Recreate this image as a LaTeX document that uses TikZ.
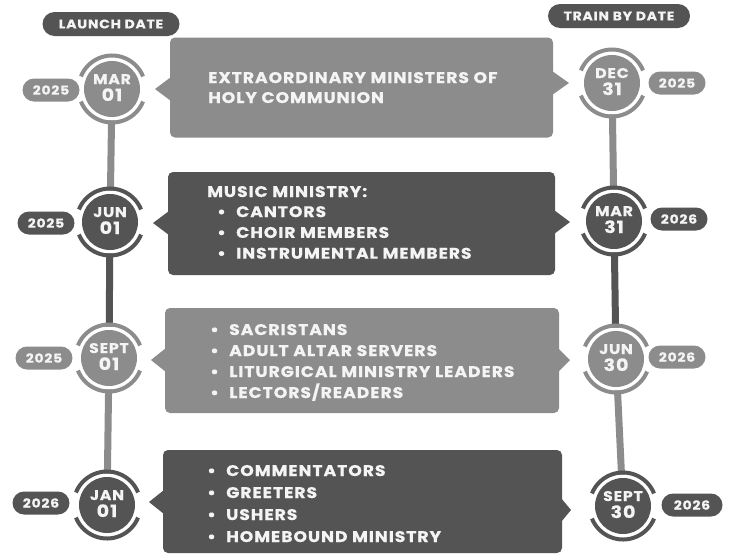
\documentclass[tikz,border=0pt]{standalone}
\usepackage{fontspec}
\setmainfont{Poppins}
\newfontfamily\wf{Poppins}[FakeStretch=1.12, LetterSpace=6, BoldFeatures={FakeBold=0.5}]
\definecolor{dk}{HTML}{545454}
\definecolor{lt}{HTML}{8C8C8C}
\definecolor{tx}{HTML}{F4F4F4}
\tikzset{
  txt/.style={anchor=base west, inner sep=0pt, text=tx, font=\wf\bfseries\fontsize{15.4}{15.4}\selectfont},
  pill/.style={fill=#1, text=tx, inner sep=0pt, minimum height=23pt, minimum width=57pt, rounded corners=11.5pt, font=\wf\bfseries\fontsize{12.5}{12.5}\selectfont},
  header/.style={fill=dk, text=tx, inner sep=0pt, minimum height=24pt, rounded corners=12pt, font=\wf\bfseries\fontsize{12.5}{12.5}\selectfont},
  panel/.style={fill=#1, rounded corners=5pt, inner sep=0pt},
  inner/.style={circle, fill=#1, minimum size=56pt, inner sep=0pt},
  mon/.style={anchor=base, inner sep=0pt, text=tx, font=\wf\bfseries\fontsize{14}{14}\selectfont},
  day/.style={anchor=base, inner sep=0pt, text=tx, font=\wf\bfseries\fontsize{17}{17}\selectfont},
  stem/.style={line width=7pt, draw=#1},
  ring/.style={line width=4pt, draw=#1},
}
\begin{document}
\begin{tikzpicture}[x=1pt,y=-1pt]
\useasboundingbox (0,0) rectangle (729,560);
\fill[white] (0,0) rectangle (729,560);

% headers
\node[header, minimum width=137pt] (hl) at (111,24) {LAUNCH DATE};
\node[header, minimum width=142pt] (hr) at (619,16) {TRAIN BY DATE};

% panels
\node[panel=lt, minimum width=383pt, minimum height=100pt] (B1) at (361.5,87.5) {};
\node[panel=dk, minimum width=387pt, minimum height=103pt] (B2) at (361.5,223.5) {};
\node[panel=lt, minimum width=394pt, minimum height=105pt] (B3) at (362,360.5) {};
\node[panel=dk, minimum width=399pt, minimum height=103pt] (B4) at (362.5,501.5) {};
% pointers
\fill[lt] (171,77) -- (155,89) -- (171,101) -- cycle;
\fill[lt] (552,71) -- (569,83) -- (552,95) -- cycle;
\fill[dk] (169,211) -- (153,223) -- (169,235) -- cycle;
\fill[dk] (554,210) -- (570,222) -- (554,234) -- cycle;
\fill[lt] (166,348) -- (151,360) -- (166,372) -- cycle;
\fill[lt] (558,348) -- (570,360) -- (558,372) -- cycle;
\fill[dk] (164,490) -- (149,502) -- (164,514) -- cycle;
\fill[dk] (561,498) -- (571,510) -- (561,522) -- cycle;

% panel texts
\node[txt] (t11) at (208,83) {EXTRAORDINARY MINISTERS OF};
\node[txt] (t12) at (208,103) {HOLY COMMUNION};

\node[txt] (t20) at (207,197) {MUSIC MINISTRY:};
\foreach \t [count=\i] in {CANTORS, CHOIR MEMBERS, INSTRUMENTAL MEMBERS}{
  \node[txt] (b2\i) at (217,{196.3+20.8*\i}) {\textbullet};
  \node[txt] (t2\i) at (236,{196.3+20.8*\i}) {\t};
}
\foreach \t [count=\i] in {SACRISTANS, ADULT ALTAR SERVERS, LITURGICAL MINISTRY LEADERS, LECTORS/READERS}{
  \node[txt] (b3\i) at (210,{314+21*\i}) {\textbullet};
  \node[txt] (t3\i) at (229,{314+21*\i}) {\t};
}
\foreach \t [count=\i] in {COMMENTATORS, GREETERS, USHERS, HOMEBOUND MINISTRY}{
  \node[txt] (b4\i) at (207,{454+22*\i}) {\textbullet};
  \node[txt] (t4\i) at (226,{454+22*\i}) {\t};
}

% circle centres
\coordinate (L1) at (112,89);  \coordinate (L2) at (110,222);
\coordinate (L3) at (109,358); \coordinate (L4) at (107,505);
\coordinate (R1) at (612,83);  \coordinate (R2) at (614,221);
\coordinate (R3) at (616,359); \coordinate (R4) at (623,506);

% stems
\draw[stem=lt] (L1) -- (L2);
\draw[stem=dk] (L2) -- (L3);
\draw[stem=lt] (L3) -- (L4);
\draw[stem=lt] (R1) -- (R2);
\draw[stem=dk] (R2) -- (R3);
\draw[stem=lt] (R3) -- (R4);

% year pills
\node[pill=lt] (y1) at (51,90) {2025};
\node[pill=dk] (y2) at (46,223) {2025};
\node[pill=lt] (y3) at (44,358) {2025};
\node[pill=dk] (y4) at (41,503) {2026};
\node[pill=lt] (z1) at (677,83) {2025};
\node[pill=dk] (z2) at (679,219) {2026};
\node[pill=lt] (z3) at (677,357) {2026};
\node[pill=dk, minimum width=61pt] (z4) at (692,505) {2026};

% date circles
\foreach \c/\col/\m/\d in {L1/lt/MAR/01, L2/dk/JUN/01, L3/lt/SEPT/01, L4/dk/JAN/01,
                           R1/lt/DEC/31, R2/dk/MAR/31, R3/lt/JUN/30, R4/dk/SEPT/30}{
  \fill[white] (\c) circle (31.5);
  \draw[ring=\col] ([shift={(22:33.5)}]\c) arc[start angle=22, end angle=158, radius=33.5];
  \draw[ring=\col] ([shift={(202:33.5)}]\c) arc[start angle=202, end angle=338, radius=33.5];
  \node[inner=\col] (c\c) at (\c) {};
  \node[mon] (m\c) at ([yshift=5pt]\c) {\m};
  \node[day] (d\c) at ([yshift=-12pt]\c) {\d};
}
\end{tikzpicture}
\end{document}
